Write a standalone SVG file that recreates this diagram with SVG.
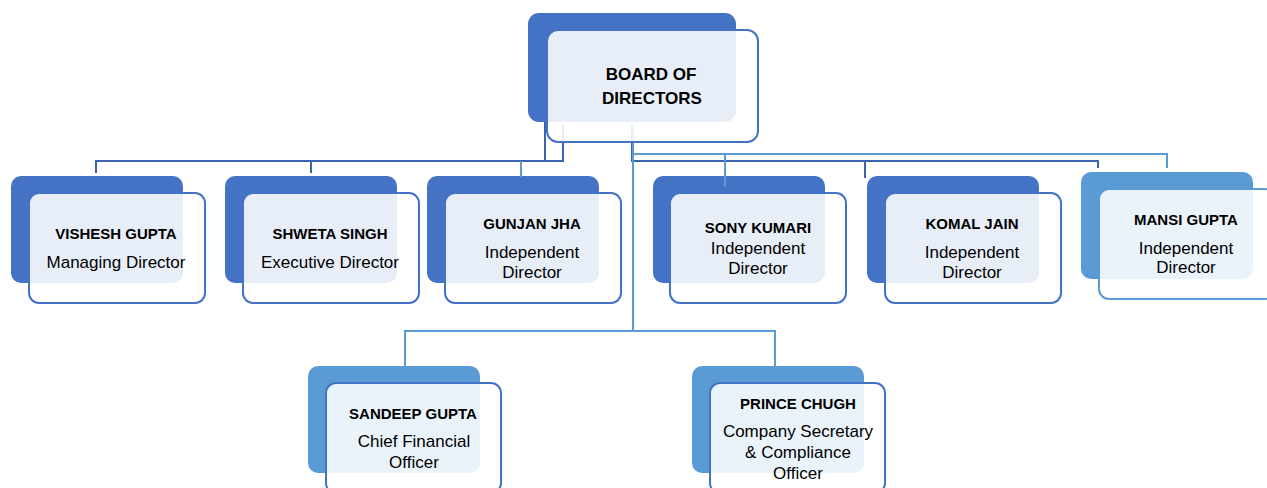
<svg xmlns="http://www.w3.org/2000/svg" width="1267" height="488" viewBox="0 0 1267 488">
<style>
  .bk{fill:#4472C4}
  .bkl{fill:#5B9BD5}
  .fr{fill:#ffffff;fill-opacity:0.88;stroke:#4472C4;stroke-width:2}
  .frl{fill:#ffffff;fill-opacity:0.88;stroke:#5B9BD5;stroke-width:2}
  .ld{fill:none;stroke:#3B64AE;stroke-width:2}
  .ll{fill:none;stroke:#5B9BD5;stroke-width:2}
  text{font-family:"Liberation Sans",Arial,sans-serif;fill:#000;text-anchor:middle}
  .nm{font-weight:bold;font-size:15px}
  .rl{font-size:17px}
  .tt{font-weight:bold;font-size:17px}
</style>
<rect width="1267" height="488" fill="#ffffff"/>

<!-- back rectangles -->
<g id="backs">
  <rect class="bk" x="528" y="13" width="208" height="109" rx="11"/>
  <rect class="bk" x="11" y="176" width="172" height="107" rx="10"/>
  <rect class="bk" x="225" y="176" width="172" height="107" rx="10"/>
  <rect class="bk" x="427" y="176" width="172" height="107" rx="10"/>
  <rect class="bk" x="653" y="176" width="172" height="107" rx="10"/>
  <rect class="bk" x="867" y="176" width="172" height="107" rx="10"/>
  <rect class="bkl" x="1081" y="172" width="172" height="107" rx="10"/>
  <rect class="bkl" x="308" y="366" width="172" height="107" rx="10"/>
  <rect class="bkl" x="692" y="366" width="172" height="107" rx="10"/>
</g>

<!-- connectors -->
<g id="connectors">
  <path class="ld" d="M545 122 V161 H96 V173"/>
  <path class="ld" d="M311 161 V173"/>
  <path class="ld" d="M563 125 V161 H545"/>
  <path class="ll" d="M521 161 V177"/>
  <path class="ld" d="M632 125 V161 H1098 V168"/>
  <path class="ld" d="M865 161 V178"/>
  <path class="ll" d="M633 154 H1167 V168"/>
  <path class="ll" d="M725 154 V187"/>
  <path class="ll" d="M633 125 V331 H405 V366"/>
  <path class="ll" d="M633 331 H775 V366"/>
</g>

<g id="board">
  <rect class="fr" x="547" y="30" width="211" height="112" rx="11"/>
  <text class="tt" x="651" y="80">BOARD OF</text>
  <text class="tt" x="652" y="104">DIRECTORS</text>
</g>

<g id="vishesh">
  <rect class="fr" x="29" y="193" width="176" height="110" rx="10"/>
  <text class="nm" x="116" y="239">VISHESH GUPTA</text>
  <text class="rl" x="116" y="268">Managing Director</text>
</g>

<g id="shweta">
  <rect class="fr" x="243" y="193" width="176" height="110" rx="10"/>
  <text class="nm" x="330" y="239">SHWETA SINGH</text>
  <text class="rl" x="330" y="268">Executive Director</text>
</g>

<g id="gunjan">
  <rect class="fr" x="445" y="193" width="176" height="110" rx="10"/>
  <text class="nm" x="532" y="229">GUNJAN JHA</text>
  <text class="rl" x="532" y="258">Independent</text>
  <text class="rl" x="532" y="278">Director</text>
</g>

<g id="sony">
  <rect class="fr" x="670" y="193" width="176" height="110" rx="10"/>
  <text class="nm" x="758" y="233">SONY KUMARI</text>
  <text class="rl" x="758" y="254">Independent</text>
  <text class="rl" x="758" y="274">Director</text>
</g>

<g id="komal">
  <rect class="fr" x="885" y="193" width="176" height="110" rx="10"/>
  <text class="nm" x="972" y="229">KOMAL JAIN</text>
  <text class="rl" x="972" y="258">Independent</text>
  <text class="rl" x="972" y="278">Director</text>
</g>

<g id="mansi">
  <rect class="frl" x="1099" y="189" width="176" height="110" rx="10"/>
  <text class="nm" x="1186" y="225">MANSI GUPTA</text>
  <text class="rl" x="1186" y="254">Independent</text>
  <text class="rl" x="1186" y="273">Director</text>
</g>

<g id="sandeep">
  <rect class="fr" x="326" y="383" width="175" height="110" rx="10"/>
  <text class="nm" x="413" y="419">SANDEEP GUPTA</text>
  <text class="rl" x="414" y="447">Chief Financial</text>
  <text class="rl" x="414" y="468">Officer</text>
</g>

<g id="prince">
  <rect class="fr" x="710" y="383" width="175" height="110" rx="10"/>
  <text class="nm" x="798" y="409">PRINCE CHUGH</text>
  <text class="rl" x="798" y="437">Company Secretary</text>
  <text class="rl" x="798" y="458">&amp; Compliance</text>
  <text class="rl" x="798" y="479">Officer</text>
</g>
</svg>
